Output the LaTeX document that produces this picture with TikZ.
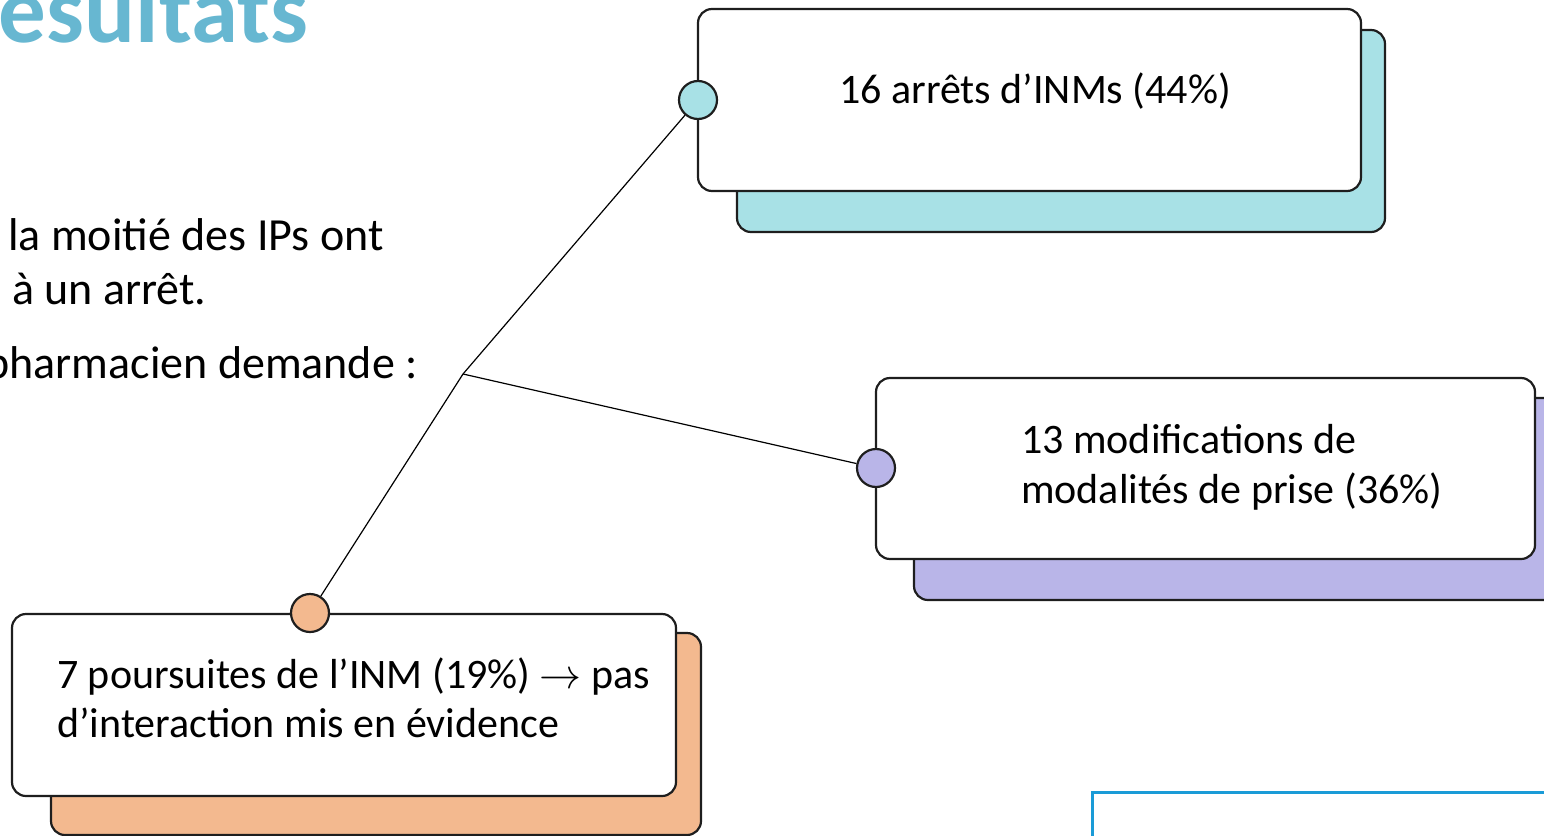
\RequirePackage{fix-cm}
\documentclass[tikz,border=0pt]{standalone}
\usepackage{fontspec}
\setmainfont{Carlito}
\definecolor{titleblue}{HTML}{67B7D1}
\definecolor{boxline}{HTML}{1E1E1E}
\definecolor{tealfill}{HTML}{A8E1E6}
\definecolor{lilacfill}{HTML}{B9B5E8}
\definecolor{peachfill}{HTML}{F3B98F}
\definecolor{panelblue}{HTML}{1A9BD7}
\begin{document}
\begin{tikzpicture}[x=1pt,y=-1pt,
  body/.style={font=\fontsize{42}{50}\selectfont, inner sep=0pt},
  side/.style={font=\fontsize{46}{56}\selectfont, inner sep=0pt},
  frontbox/.style={draw=boxline, line width=2.2pt, rounded corners=14pt, fill=white, inner sep=0pt},
  backbox/.style={draw=boxline, line width=2.2pt, rounded corners=14pt, inner sep=0pt},
  knob/.style={circle, draw=boxline, line width=2.2pt, minimum size=38pt, inner sep=0pt},
  link/.style={draw=black, line width=1.2pt},
]
\useasboundingbox (0,0) rectangle (1544,835);
\clip (0,0) rectangle (1544,835);

% heading
\node[anchor=base east, inner sep=0pt, text=titleblue,
      font=\fontsize{95}{110}\selectfont\bfseries] (title) at (308,42) {Résultats};

% bullet text on the left
\node[side, anchor=base west] (l1) at (8,250) {la moitié des IPs ont};
\node[side, anchor=base west] (l2) at (12,304) {à un arrêt.};
\node[side, anchor=base east] (l3) at (418,378) {pharmacien demande :};

% branch point and connectors
\coordinate (hub) at (463,374);

% card 1: stops
\node[backbox, fill=tealfill, minimum width=648pt, minimum height=202pt] (back1) at (1061,131) {};
\node[frontbox, minimum width=663pt, minimum height=182pt] (card1) at (1029.5,100) {};
\node[body, anchor=base] (t1) at (1035,103) {16 arrêts d’INMs (44\%)};

% card 2: changes of intake
\node[backbox, fill=lilacfill, minimum width=648pt, minimum height=202pt] (back2) at (1238,499) {};
\node[frontbox, minimum width=659pt, minimum height=181pt] (card2) at (1205.5,468.5) {};
\node[body, anchor=base west] (t2a) at (1021,453) {13 modifications de};
\node[body, anchor=base west] (t2b) at (1021,503) {modalités de prise (36\%)};

% card 3: continued
\node[backbox, fill=peachfill, minimum width=650pt, minimum height=202pt] (back3) at (376,734) {};
\node[frontbox, minimum width=664pt, minimum height=182pt] (card3) at (344,705) {};
\node[body, anchor=base west] (t3a) at (57,688) {7 poursuites de l’INM (19\%) $\rightarrow$ pas};
\node[body, anchor=base west] (t3b) at (57,737) {d’interaction mis en évidence};

% connectors
\node[knob, fill=tealfill] (k1) at (698,100) {};
\node[knob, fill=lilacfill] (k2) at (876,468) {};
\node[knob, fill=peachfill] (k3) at (310,613) {};
\draw[link] (hub) -- (k1);
\draw[link] (hub) -- (k2);
\draw[link] (hub) -- (k3);

% framed panel at the lower right
\node[draw=panelblue, line width=3pt, minimum width=500pt, minimum height=120pt, inner sep=0pt,
      anchor=north west] (panel) at (1091,791) {};
\end{tikzpicture}
\end{document}
